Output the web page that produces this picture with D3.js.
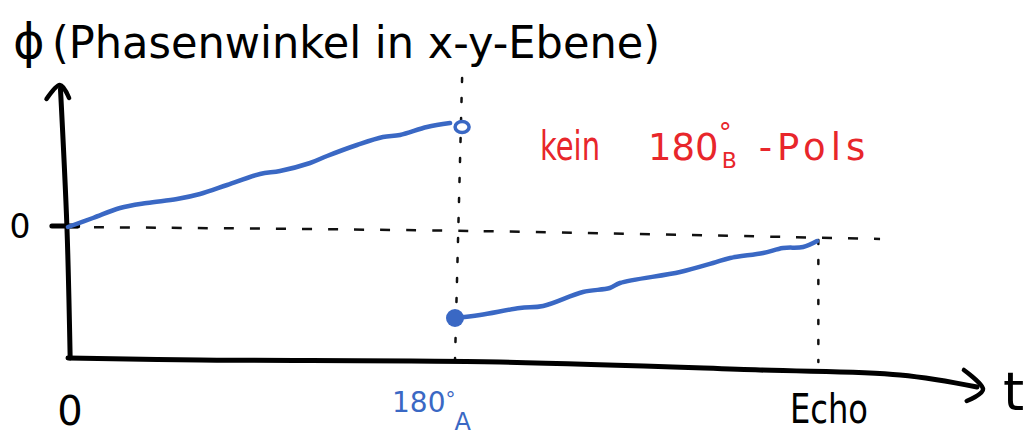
<!DOCTYPE html>
<html>
<head>
<meta charset="utf-8">
<script src="https://cdn.jsdelivr.net/npm/d3@7"></script>
<style>
    body { margin: 0; background: #fff; }
    text { font-family: "DejaVu Sans", sans-serif; }
</style>
</head>
<body>
<div id="chart"></div>
<script>
// phase angle before the 180 pulse (t, phi)
const seg1T   = [0, 11.6, 24.2, 36.7, 50.7, 61.4, 74, 89.3, 98.6, 112.6, 120.5, 134.4, 146.5, 154.4, 167, 177.7];
const seg1Phi = [0, 9, 19, 24, 28, 33, 42, 53, 56, 64, 71, 82, 90, 92, 100, 104];
// phase angle after the 180 pulse
const seg2T   = [180, 191.6, 210.2, 221, 239.5, 252, 256.7, 284.7, 300, 308, 323.3, 332.6, 341.9, 348.4];
const seg2Phi = [-91, -88, -81, -79, -65, -61, -56, -45, -36, -31, -26, -21, -20, -14];

// hand drawn axes and guide lines
const xAxisT   = [0, 61.4, 200.9, 321.9, 387, 422.8];
const xAxisPhi = [-131, -133, -135, -143, -148, -160];
const yAxisT   = [-3.5, -0.5, 1];
const yAxisPhi = [138, 0, -131];
const zeroT    = [0, 189.3, 377.7];
const zeroPhi  = [0, -4, -12];

const pulseT = 180;      // 180°_A
const echoT = 349;       // Echo
const jumpFrom = {t: 183.3, phi: 100};   // open circle
const jumpTo = {t: 180, phi: -91};       // filled dot

const width = 1033, height = 436;
const blue = "#3a68c4", red = "#e8262b";

const xScale = d3.scaleLinear().domain([0, 420]).range([68, 971]);
const yScale = d3.scaleLinear().domain([-100, 100]).range([327, 127]);

const svg = d3.select("#chart").append("svg")
    .attr("width", width)
    .attr("height", height);

const line = d3.line()
    .x(d => xScale(d[0]))
    .y(d => yScale(d[1]))
    .curve(d3.curveCatmullRom);

const zip = (a, b) => a.map((v, i) => [v, b[i]]);

// dashed zero line
svg.append("path")
    .attr("d", line(zip(zeroT, zeroPhi)))
    .attr("fill", "none")
    .attr("stroke", "#111")
    .attr("stroke-width", 2.5)
    .attr("stroke-dasharray", "10,16");

// dotted verticals at pulse and echo
svg.append("path")
    .attr("d", line([[jumpFrom.t, 149], [pulseT, -133]]))
    .attr("fill", "none")
    .attr("stroke", "#111")
    .attr("stroke-width", 2.5)
    .attr("stroke-linecap", "round")
    .attr("stroke-dasharray", "4,16");

svg.append("path")
    .attr("d", line([[echoT, -13], [echoT, -135]]))
    .attr("fill", "none")
    .attr("stroke", "#111")
    .attr("stroke-width", 2.5)
    .attr("stroke-linecap", "round")
    .attr("stroke-dasharray", "4,16");

// axes
svg.append("path")
    .attr("d", line(zip(yAxisT, yAxisPhi)))
    .attr("fill", "none")
    .attr("stroke", "#000")
    .attr("stroke-width", 5)
    .attr("stroke-linecap", "round");

svg.append("path")
    .attr("d", line(zip(xAxisT, xAxisPhi)))
    .attr("fill", "none")
    .attr("stroke", "#000")
    .attr("stroke-width", 5)
    .attr("stroke-linecap", "round");

// arrow heads
svg.append("path")
    .attr("d", d3.line().curve(d3.curveCardinal)([
        [xScale(-10), yScale(128)], [xScale(-3.8), yScale(142)], [xScale(0.5), yScale(129)]]))
    .attr("fill", "none")
    .attr("stroke", "#000")
    .attr("stroke-width", 4.5)
    .attr("stroke-linecap", "round");

svg.append("path")
    .attr("d", d3.line().curve(d3.curveCardinal)([
        [xScale(416.7), yScale(-143)], [xScale(425.6), yScale(-162)], [xScale(418), yScale(-174)]]))
    .attr("fill", "none")
    .attr("stroke", "#000")
    .attr("stroke-width", 4.5)
    .attr("stroke-linecap", "round");

// zero tick
svg.append("line")
    .attr("x1", xScale(-7.5)).attr("x2", xScale(4.5))
    .attr("y1", yScale(1)).attr("y2", yScale(1))
    .attr("stroke", "#000")
    .attr("stroke-width", 5)
    .attr("stroke-linecap", "round");

// phase curves
svg.append("path")
    .attr("d", line(zip(seg1T, seg1Phi)))
    .attr("fill", "none")
    .attr("stroke", blue)
    .attr("stroke-width", 4.5)
    .attr("stroke-linecap", "round");

svg.append("path")
    .attr("d", line(zip(seg2T, seg2Phi)))
    .attr("fill", "none")
    .attr("stroke", blue)
    .attr("stroke-width", 4.5)
    .attr("stroke-linecap", "round");

svg.append("ellipse")
    .attr("cx", xScale(jumpFrom.t))
    .attr("cy", yScale(jumpFrom.phi))
    .attr("rx", 7)
    .attr("ry", 5.5)
    .attr("fill", "#fff")
    .attr("stroke", blue)
    .attr("stroke-width", 3.5);

svg.append("circle")
    .attr("cx", xScale(jumpTo.t))
    .attr("cy", yScale(jumpTo.phi))
    .attr("r", 9)
    .attr("fill", blue);

// texts
svg.append("text")
    .attr("x", 13).attr("y", 58)
    .style("font-size", "48px")
    .text("ϕ");

svg.append("text")
    .attr("x", 52).attr("y", 58)
    .attr("textLength", 608)
    .attr("lengthAdjust", "spacingAndGlyphs")
    .style("font-size", "44px")
    .text("(Phasenwinkel in x-y-Ebene)");

svg.append("text")
    .attr("x", 20).attr("y", 238)
    .attr("text-anchor", "middle")
    .style("font-size", "33px")
    .text("0");

svg.append("text")
    .attr("x", 70).attr("y", 425)
    .attr("text-anchor", "middle")
    .style("font-size", "40px")
    .text("0");

// 180°_A label
const pulseLabel = svg.append("text")
    .attr("x", 392).attr("y", 412)
    .attr("fill", blue)
    .style("font-size", "28px");
pulseLabel.append("tspan").text("180");
pulseLabel.append("tspan").attr("dy", -6).style("font-size", "20px").text("°");
pulseLabel.append("tspan").attr("dx", -1).attr("dy", 24).style("font-size", "24px").text("A");

svg.append("text")
    .attr("x", 790).attr("y", 423)
    .attr("textLength", 78)
    .attr("lengthAdjust", "spacingAndGlyphs")
    .style("font-size", "40px")
    .text("Echo");

svg.append("text")
    .attr("x", 1003).attr("y", 410)
    .style("font-size", "54px")
    .text("t");

// red note
svg.append("text")
    .attr("x", 540).attr("y", 160)
    .attr("fill", red)
    .attr("textLength", 60)
    .attr("lengthAdjust", "spacingAndGlyphs")
    .style("font-size", "40px")
    .text("kein");

const note = svg.append("text")
    .attr("x", 648).attr("y", 160)
    .attr("fill", red)
    .style("font-size", "37px");
note.append("tspan").text("180");
note.append("tspan").attr("dy", -18).style("font-size", "26px").text("°");
note.append("tspan").attr("dx", -10).attr("dy", 26).style("font-size", "22px").text("B");
note.append("tspan").attr("dx", 22).attr("dy", -8).style("letter-spacing", "5px").text("-Pols");
</script>
</body>
</html>
